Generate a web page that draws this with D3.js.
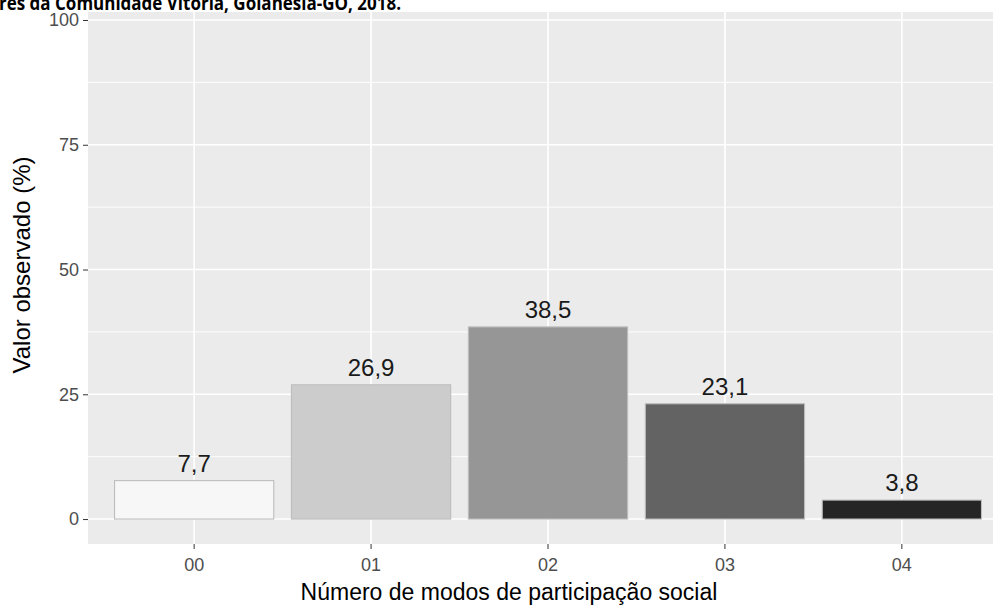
<!DOCTYPE html>
<html><head><meta charset="utf-8">
<script src="https://cdn.jsdelivr.net/npm/d3@7"></script>
<style>body{margin:0;background:#fff}svg{display:block}</style>
</head><body>
<svg id="c" width="993" height="608"></svg>
<script>
const categories = ["00", "01", "02", "03", "04"];
const values = [7.7, 26.9, 38.5, 23.1, 3.8];
const labels = ["7,7", "26,9", "38,5", "23,1", "3,8"];
const fills = ["#F7F7F7", "#CCCCCC", "#969696", "#636363", "#252525"];
const yTicks = [0, 25, 50, 75, 100];
const yMinor = [12.5, 37.5, 62.5, 87.5];
const titleText = "res da Comunidade Vitória, Goianésia-GO, 2018.";
const xTitle = "Número de modos de participação social";
const yTitle = "Valor observado (%)";

const svg = d3.select("#c");
const P = {l: 88, r: 1008, t: 12, b: 544};
const x = d3.scaleBand().domain(categories).range([P.l, P.r]).paddingInner(0.1).paddingOuter(0.15);
const y = d3.scaleLinear().domain([-5, 101.6]).range([P.b, P.t]);
const font = "'Liberation Sans', Arial, sans-serif";

svg.append("rect").attr("x", P.l).attr("y", P.t).attr("width", P.r - P.l).attr("height", P.b - P.t).attr("fill", "#EBEBEB");

const g = svg.append("g");
g.selectAll("line.minor").data(yMinor).join("line")
  .attr("x1", P.l).attr("x2", P.r).attr("y1", d => y(d)).attr("y2", d => y(d))
  .attr("stroke", "#fff").attr("stroke-width", 0.9);
g.selectAll("line.majy").data(yTicks).join("line")
  .attr("x1", P.l).attr("x2", P.r).attr("y1", d => y(d)).attr("y2", d => y(d))
  .attr("stroke", "#fff").attr("stroke-width", 1.6);
svg.append("g").selectAll("line").data(categories).join("line")
  .attr("x1", d => x(d) + x.bandwidth() / 2).attr("x2", d => x(d) + x.bandwidth() / 2)
  .attr("y1", P.t).attr("y2", P.b).attr("stroke", "#fff").attr("stroke-width", 1.6);

svg.append("g").selectAll("rect").data(values).join("rect")
  .attr("x", (d, i) => x(categories[i]))
  .attr("width", x.bandwidth())
  .attr("y", d => y(d))
  .attr("height", d => y(0) - y(d))
  .attr("fill", (d, i) => fills[i])
  .attr("stroke", "#BDBDBD").attr("stroke-width", 1.1);

svg.append("g").selectAll("text").data(values).join("text")
  .attr("x", (d, i) => x(categories[i]) + x.bandwidth() / 2)
  .attr("y", d => y(d) - 9)
  .attr("text-anchor", "middle")
  .attr("font-family", font).attr("font-size", 24).attr("fill", "#1A1A1A")
  .text((d, i) => labels[i]);

// axes
const yAxis = svg.append("g").attr("transform", `translate(${P.l},0)`)
  .call(d3.axisLeft(y).tickValues(yTicks).tickSize(5).tickPadding(4));
yAxis.select(".domain").remove();
yAxis.selectAll("line").attr("stroke", "#333");
yAxis.selectAll("text").attr("font-family", font).attr("font-size", 18).attr("fill", "#4D4D4D");

const xAxis = svg.append("g").attr("transform", `translate(0,${P.b})`)
  .call(d3.axisBottom(x).tickSize(5).tickPadding(9));
xAxis.select(".domain").remove();
xAxis.selectAll("line").attr("stroke", "#333");
xAxis.selectAll("text").attr("font-family", font).attr("font-size", 18).attr("fill", "#4D4D4D");

svg.append("text").attr("x", 509).attr("y", 600)
  .attr("text-anchor", "middle").attr("font-family", font).attr("font-size", 23).attr("fill", "#000")
  .text(xTitle);
svg.append("text").attr("transform", `translate(30,265) rotate(-90)`)
  .attr("text-anchor", "middle").attr("font-family", font).attr("font-size", 24).attr("fill", "#000")
  .text(yTitle);

svg.append("text").attr("x", -1).attr("y", 10)
  .attr("font-family", "'Open Sans', Lato, sans-serif").attr("font-weight", "bold").attr("font-size", 20)
  .attr("textLength", 402).attr("lengthAdjust", "spacingAndGlyphs").attr("fill", "#000")
  .text(titleText);
</script>
</body></html>
